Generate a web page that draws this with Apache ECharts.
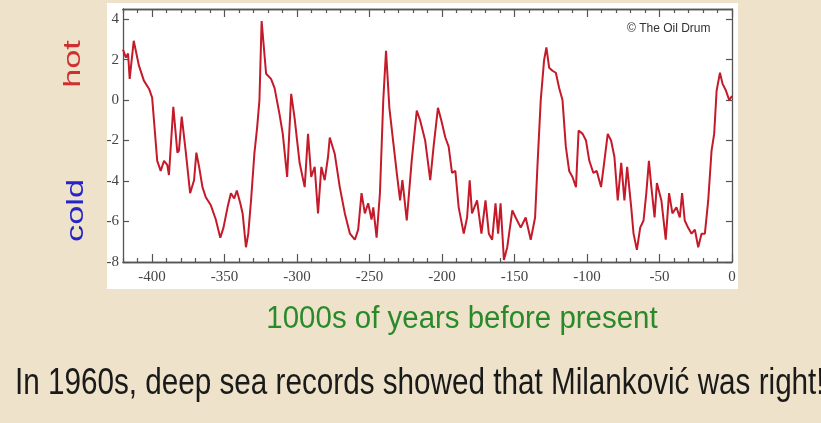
<!DOCTYPE html>
<html>
<head>
<meta charset="utf-8">
<script src="https://cdn.jsdelivr.net/npm/echarts@6/dist/echarts.min.js"></script>
<style>
  html, body { margin: 0; padding: 0; background: #eee3ca; }
  #chart { width: 821px; height: 423px; }
</style>
</head>
<body>
<div id="chart"></div>
<script>
// temperature anomaly (x in 1000s of years, y in deg C)
const years = [
  -420, -418, -416.5, -415.4, -412.6, -409, -405.6, -402, -399.9, -396.4,
  -394, -391.7, -389.5, -388.3, -385.3, -382.5, -381.4, -379.5, -376.8, -373.7,
  -371, -369.4, -367.5, -365.2, -362.9, -359.4, -356, -352.9, -350.7, -347.9,
  -345.6, -343.3, -341.5, -339.1, -337.5, -335.2, -333.6, -331.7, -329.4, -327.5,
  -325.9, -324.4, -321.3, -317.9, -315.5, -312.1, -309.8, -306.8, -304, -301.7,
  -298.2, -294.7, -292.4, -290.2, -287.8, -285.5, -283.2, -280.9, -278.6, -277.4,
  -274, -270.5, -267, -263.5, -260.1, -257.8, -255.5, -253.2, -250.9, -248.6,
  -247.4, -245.1, -242.8, -240.5, -238.6, -236.3, -233.5, -231.2, -228.9, -227.3,
  -224.3, -220.9, -217.4, -215.1, -211.6, -208.1, -205.8, -202.8, -200.5, -197.7,
  -195.4, -193.1, -190.8, -188.5, -185, -182.7, -180.9, -179.3, -175.8, -172.8,
  -170, -167.7, -165.4, -163.1, -161.3, -159.6, -157.3, -155, -151.5, -149.2,
  -145.7, -142.3, -138.8, -135.8, -134.2, -131.9, -129.6, -128, -126.1, -123.8,
  -121.5, -119.2, -116.9, -114.6, -112.3, -110, -107.6, -105.8, -103, -100.7,
  -98.4, -95.6, -93.3, -90.3, -88, -85.7, -83.4, -81.1, -78.8, -76.4,
  -74.2, -72.3, -69.5, -67.9, -65.6, -63.3, -61, -59.1, -57.3, -55.6,
  -53.4, -51.8, -48.7, -45.7, -43.4, -41.1, -38.3, -36, -34.4, -32.6,
  -30.3, -27.9, -25.6, -23.3, -21, -18.7, -16.4, -14.1, -12.3, -10.6,
  -8.3, -6.5, -4.2, -1.9, 0
];
const temps = [
  2.5, 2.1, 2.3, 1.05, 2.93, 1.7, 0.96, 0.55, 0.12, -3.0,
  -3.5, -3.0, -3.2, -3.7, -0.33, -2.6, -2.5, -0.82, -2.5, -4.6,
  -3.96, -2.6, -3.3, -4.3, -4.8, -5.2, -5.9, -6.8, -6.3, -5.3,
  -4.6, -4.86, -4.47, -5.1, -5.6, -7.27, -6.6, -4.96, -2.65, -1.36,
  0, 3.9, 1.3, 1.05, 0.6, -0.68, -1.67, -3.8, 0.31, -0.87,
  -3.1, -4.3, -1.67, -3.8, -3.3, -5.6, -3.3, -3.96, -2.8, -1.85,
  -2.65, -4.3, -5.6, -6.6, -6.9, -6.4, -4.6, -5.6, -5.1, -5.9,
  -5.3, -6.8, -4.6, 0, 2.44, -0.38, -2.15, -3.6, -4.96, -3.96,
  -5.95, -3.0, -0.52, -1.0, -2.0, -3.96, -2.3, -0.38, -1.0, -1.85,
  -2.3, -3.6, -3.5, -5.3, -6.6, -5.8, -3.96, -5.6, -4.96, -6.6,
  -4.96, -6.6, -6.9, -5.1, -6.6, -5.1, -7.9, -7.27, -5.45, -5.8,
  -6.3, -5.8, -6.9, -5.8, -3.3, 0, 1.97, 2.6, 1.6, 1.45,
  1.35, 0.6, 0, -2.3, -3.5, -3.8, -4.3, -1.5, -1.67, -2.0,
  -3.0, -3.6, -3.5, -4.3, -3.0, -1.67, -2.0, -2.8, -4.96, -3.1,
  -4.96, -3.3, -5.3, -6.6, -7.4, -6.3, -5.95, -4.6, -3.0, -4.3,
  -5.8, -4.1, -4.96, -6.9, -4.6, -5.6, -5.3, -5.8, -4.6, -5.95,
  -6.3, -6.6, -6.4, -7.27, -6.6, -6.6, -4.96, -2.5, -1.67, 0.47,
  1.35, 0.8, 0.47, 0, 0.2
];
const xMajor = [-400, -350, -300, -250, -200, -150, -100, -50, 0];
const yTicks = [-8, -6, -4, -2, 0, 2, 4];

const xMinor = [];
for (let v = -420; v <= 0; v += 10) {
  if (xMajor.indexOf(v) < 0) xMinor.push(v);
}

const chart = echarts.init(document.getElementById('chart'));

const frame = '#555';
const tickFont = { fontFamily: 'Liberation Serif', fontSize: 15, color: '#444' };

function xAxisCfg(pos, ticks, len, labels) {
  return {
    type: 'value', gridIndex: 0, position: pos, min: -420, max: 0,
    axisLine: { show: true, onZero: false, lineStyle: { color: frame, width: 1.3 } },
    axisTick: { show: true, inside: true, length: len, customValues: ticks, lineStyle: { color: frame, width: 1.2 } },
    axisLabel: labels ? Object.assign({ show: true, customValues: xMajor, margin: 8 }, tickFont) : { show: false },
    splitLine: { show: false }
  };
}

function yAxisCfg(pos, labels) {
  return {
    type: 'value', gridIndex: 0, position: pos, min: -8, max: 4.5,
    axisLine: { show: true, onZero: false, lineStyle: { color: frame, width: 1.3 } },
    axisTick: { show: true, inside: true, length: 6, customValues: yTicks, lineStyle: { color: frame, width: 1.2 } },
    axisLabel: labels ? Object.assign({ show: true, customValues: yTicks, margin: 4 }, tickFont) : { show: false },
    splitLine: { show: false }
  };
}

const option = {
  animation: false,
  grid: { left: 123, right: 89, top: 9, bottom: 161 },
  xAxis: [
    xAxisCfg('bottom', xMajor, 8, true),
    xAxisCfg('bottom', xMinor, 4, false),
    xAxisCfg('top', xMajor, 8, false),
    xAxisCfg('top', xMinor, 4, false)
  ],
  yAxis: [
    yAxisCfg('left', true),
    yAxisCfg('right', false)
  ],
  graphic: [
    { type: 'rect', z: -10, shape: { x: 107, y: 3, width: 631, height: 286 }, style: { fill: '#fff' } },
    {
      type: 'text', x: 627, y: 29,
      style: { text: '\u00a9 The Oil Drum', fontSize: 12, fontFamily: 'Liberation Sans', fill: '#333', textAlign: 'left', textVerticalAlign: 'middle' }
    },
    {
      type: 'text', x: 73.5, y: 64, rotation: Math.PI / 2, scaleX: 1.43,
      style: { text: 'hot', fontSize: 24, fontFamily: 'Liberation Sans', fill: '#cc3030', textAlign: 'center', textVerticalAlign: 'middle' }
    },
    {
      type: 'text', x: 76.5, y: 210.5, rotation: Math.PI / 2, scaleX: 1.43,
      style: { text: 'cold', fontSize: 24, fontFamily: 'Liberation Sans', fill: '#2424c8', textAlign: 'center', textVerticalAlign: 'middle' }
    },
    {
      type: 'text', x: 462, y: 319, scaleX: 0.95,
      style: { text: '1000s of years before present', fontSize: 31, fontFamily: 'Liberation Sans', fill: '#2a8a2a', textAlign: 'center', textVerticalAlign: 'middle' }
    },
    {
      type: 'text', x: 15, y: 384, scaleX: 0.824,
      style: { text: 'In 1960s, deep sea records showed that Milankovi\u0107 was right!', fontSize: 36, fontFamily: 'Liberation Sans', fill: '#1a1a1a', textAlign: 'left', textVerticalAlign: 'middle' }
    }
  ],
  series: [
    {
      type: 'line',
      xAxisIndex: 0,
      yAxisIndex: 0,
      data: years.map((x, i) => [x, temps[i]]),
      symbol: 'none',
      lineStyle: { color: '#c41a2a', width: 2 },
      z: 3
    }
  ]
};

chart.setOption(option);
</script>
</body>
</html>
